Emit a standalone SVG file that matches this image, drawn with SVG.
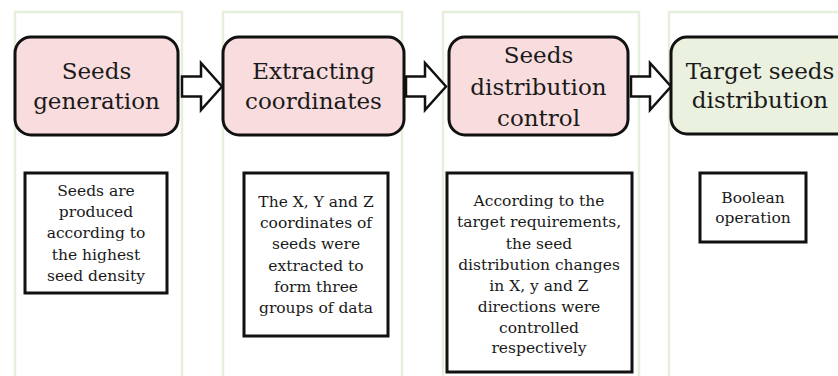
<svg xmlns="http://www.w3.org/2000/svg" width="838" height="376" viewBox="0 0 838 376">
  <style>
    .panel { fill: #ffffff; stroke: #e6eedc; stroke-width: 2.5; }
    .step { stroke: #111111; stroke-width: 3; }
    .pink { fill: #f9dcdd; }
    .green { fill: #ebf1df; }
    .note { fill: #ffffff; stroke: #111111; stroke-width: 3; }
    .flow { fill: #ffffff; stroke: #111111; stroke-width: 2.5; stroke-linejoin: miter; }
    .title { font-family: "DejaVu Serif", "Liberation Serif", serif; font-size: 23px; fill: #1a1a1a; text-anchor: middle; }
    .desc { font-family: "DejaVu Serif", "Liberation Serif", serif; font-size: 15.5px; fill: #1a1a1a; text-anchor: middle; }
  </style>
  <defs>
    <!-- block arrow, drawn from its left end at (0,0) -->
    <polygon id="blockArrow" points="0,-10 19,-10 19,-23.5 40,0 19,23.5 19,10 0,10"/>
  </defs>
  <rect width="838" height="376" fill="#ffffff"/>

  <!-- column panels -->
  <g id="panels">
    <rect class="panel" x="15" y="12" width="167" height="380"/>
    <rect class="panel" x="223" y="12" width="179" height="380"/>
    <rect class="panel" x="443" y="12" width="196" height="380"/>
    <rect class="panel" x="669" y="12" width="200" height="380"/>
  </g>

  <!-- connectors -->
  <g id="connectors">
    <use href="#blockArrow" class="flow" x="182" y="86.5"/>
    <use href="#blockArrow" class="flow" x="406" y="86.5"/>
    <use href="#blockArrow" class="flow" x="631" y="86.5"/>
  </g>

  <g id="seeds-generation">
    <rect class="step pink" x="15" y="37" width="163" height="98" rx="16"/>
    <text class="title" x="96.5" y="79">Seeds</text>
    <text class="title" x="96.5" y="109">generation</text>
  </g>

  <g id="extracting-coordinates">
    <rect class="step pink" x="223" y="37" width="181" height="98" rx="16"/>
    <text class="title" x="313.5" y="79">Extracting</text>
    <text class="title" x="313.5" y="109">coordinates</text>
  </g>

  <g id="distribution-control">
    <rect class="step pink" x="449" y="37" width="179" height="98" rx="16"/>
    <text class="title" x="538.5" y="63">Seeds</text>
    <text class="title" x="538.5" y="95">distribution</text>
    <text class="title" x="538.5" y="126">control</text>
  </g>

  <g id="target-distribution">
    <rect class="step green" x="671" y="37" width="190" height="97" rx="16"/>
    <text class="title" x="760" y="79">Target seeds</text>
    <text class="title" x="760" y="108">distribution</text>
  </g>

  <g id="note-generation">
    <rect class="note" x="25" y="173" width="142" height="120"/>
    <text class="desc" x="96" y="196">Seeds are</text>
    <text class="desc" x="96" y="217">produced</text>
    <text class="desc" x="96" y="238">according to</text>
    <text class="desc" x="96" y="260">the highest</text>
    <text class="desc" x="96" y="281">seed density</text>
  </g>

  <g id="note-coordinates">
    <rect class="note" x="244" y="173" width="144" height="163"/>
    <text class="desc" x="316" y="207">The X, Y and Z</text>
    <text class="desc" x="316" y="228">coordinates of</text>
    <text class="desc" x="316" y="249">seeds were</text>
    <text class="desc" x="316" y="271">extracted to</text>
    <text class="desc" x="316" y="292">form three</text>
    <text class="desc" x="316" y="313">groups of data</text>
  </g>

  <g id="note-control">
    <rect class="note" x="447" y="173" width="185" height="199"/>
    <text class="desc" x="539" y="206">According to the</text>
    <text class="desc" x="539" y="227">target requirements,</text>
    <text class="desc" x="539" y="249">the seed</text>
    <text class="desc" x="539" y="270">distribution changes</text>
    <text class="desc" x="539" y="291">in X, y and Z</text>
    <text class="desc" x="539" y="312">directions were</text>
    <text class="desc" x="539" y="333">controlled</text>
    <text class="desc" x="539" y="353">respectively</text>
  </g>

  <g id="note-boolean">
    <rect class="note" x="700" y="173" width="106" height="69"/>
    <text class="desc" x="753" y="203">Boolean</text>
    <text class="desc" x="753" y="223">operation</text>
  </g>
</svg>
